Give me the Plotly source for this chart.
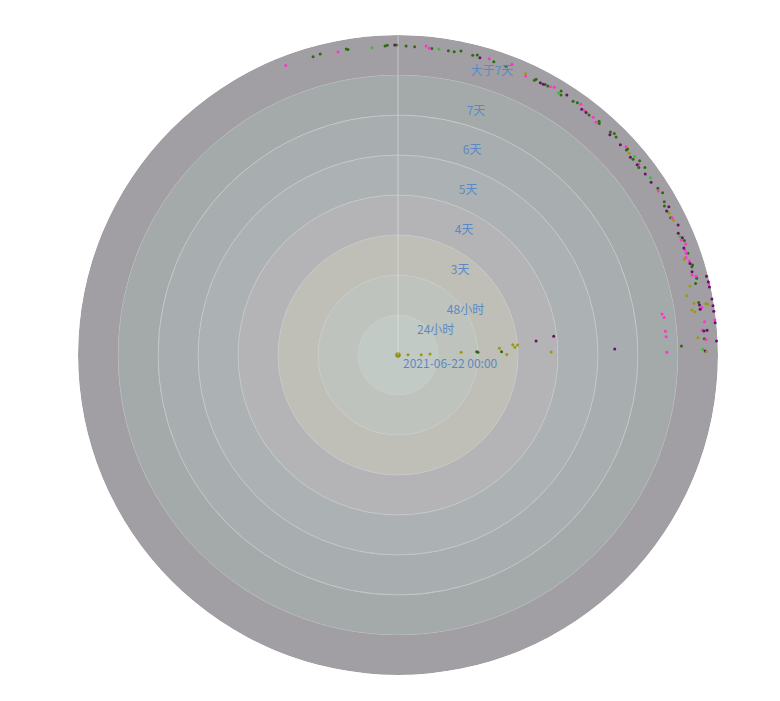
import plotly.graph_objects as go

# Radial categories (ring labels)
center_label = "2021-06-22 00:00"
first_label = "24小时"
tick_labels = ["48小时", "3天", "4天", "5天", "6天", "7天", "大于7天"]
tick_values = [1.3, 2.3, 3.3, 4.3, 5.3, 6.3, 7.3]

# Rings (one per band)
ring_names = ["24小时", "48小时", "3天", "4天", "5天", "6天", "7天", "大于7天"]
ring_size = [1, 1, 1, 1, 1, 1, 1, 1]
ring_base = [0, 1, 2, 3, 4, 5, 6, 7]

# Series: (radius, angle in degrees)
green_r = [7.75, 7.77, 7.76, 7.74, 7.73, 7.75, 7.75, 7.73, 7.72, 7.71, 7.71, 7.71, 7.76, 7.72, 7.76, 7.71, 7.71,
           7.67, 7.71, 7.70, 7.70, 7.76, 7.67, 7.71, 7.74, 7.67, 7.71, 7.67, 7.70, 7.74, 7.71, 7.71, 7.67, 7.65,
           7.75, 7.63, 7.75, 7.72, 7.76, 7.68, 7.63, 7.63, 7.71, 7.68, 7.70, 7.67, 7.71, 7.65, 7.63, 7.67, 7.09,
           1.97, 2.0, 2.59]
green_t = [105.9, 104.5, 99.6, 99.3, 92.4, 92.0, 90.2, 88.5, 86.9, 83.7, 80.6, 79.5, 78.3, 76.0, 75.2, 71.9, 69.5,
           63.6, 63.4, 61.45, 60.9, 58.3, 57.9, 55.4, 54.6, 51.5, 49.3, 49.0, 46.4, 45.7, 45.0, 41.9, 41.9, 39.8,
           38.8, 37.9, 37.2, 32.7, 31.5, 29.9, 29.2, 26.7, 21.8, 19.35, 17.0, 16.7, 14.4, 13.5, 9.9, 3.05, 1.8,
           2.4, 1.9, 1.8]

lime_r = [7.71, 7.72, 7.68, 7.72, 7.71, 7.65, 7.62]
lime_t = [94.8, 82.4, 58.5, 40.0, 35.1, 22.8, 1.1]

magenta_r = [7.76, 7.72, 7.76, 7.71, 7.75, 7.81, 7.67, 7.71, 7.75, 7.76, 7.69, 7.69, 7.64, 7.72, 7.68, 7.69, 7.64,
             7.66, 7.64, 7.71, 7.64, 7.64, 7.60, 7.65, 7.62, 7.71, 7.97, 7.69, 7.97, 6.68, 6.72, 7.71, 7.63, 6.71,
             6.72, 7.71, 6.72]
magenta_t = [111.2, 101.2, 84.8, 84.2, 72.9, 68.6, 65.4, 60.4, 59.7, 53.9, 52.6, 50.6, 49.6, 42.4, 38.4, 32.2, 27.8,
             26.6, 22.1, 21.1, 20.1, 19.45, 18.7, 17.9, 15.2, 14.8, 12.9, 8.9, 6.3, 8.8, 8.0, 6.2, 4.7, 5.1,
             3.9, 2.9, 0.6]

purple_r = [7.75, 7.71, 7.68, 7.68, 7.75, 7.67, 7.67, 7.64, 7.65, 7.63, 7.64, 7.66, 7.66, 7.72, 7.62, 7.72, 7.64,
            7.69, 7.63, 7.65, 7.64, 7.96, 7.97, 7.97, 7.97, 7.64, 7.64, 7.97, 7.97, 7.97, 7.75, 7.67, 7.97, 7.68,
            5.42, 3.47, 3.92]
purple_t = [90.6, 74.6, 62.4, 61.8, 57.0, 53.2, 52.2, 46.1, 43.4, 40.4, 38.5, 36.2, 34.3, 28.7, 28.2, 24.9, 23.5,
            22.4, 20.5, 17.4, 15.8, 14.3, 13.3, 12.3, 10.1, 9.4, 8.6, 8.9, 7.9, 5.8, 4.6, 4.5, 2.5, 0.75,
            1.6, 5.8, 6.85]

olive_r = [7.72, 7.67, 7.65, 7.67, 7.55, 7.5, 7.37, 7.51, 7.8, 7.85, 7.43, 7.50, 7.51, 7.71, 3.83, 0.25, 0.58,
           0.80, 1.58, 2.54, 2.72, 2.88, 2.93, 3.0]
olive_t = [65.6, 41.1, 27.6, 26.1, 18.5, 13.3, 11.6, 9.9, 9.5, 9.3, 8.7, 8.3, 3.3, 0.6, 1.1, 1.7, 0.7,
           1.8, 2.4, 3.8, 0.2, 5.1, 3.8, 4.8]

origin_r = [0]
origin_t = [0]

ring_colors = ["#c2cac6", "#bfc3bd", "#bfbeb7", "#b4b4b7", "#acb1b3", "#a8adaf", "#a4aaa9", "#a19fa3"]
ring_lines = ["#c8cbca"] * 7 + ["rgba(0,0,0,0)"]
label_font = dict(family="Noto Sans CJK SC, sans-serif", size=12, color="#5a8ac4")

fig = go.Figure()
fig.add_trace(go.Barpolar(
    r=ring_size, base=ring_base, theta=[0] * len(ring_names), width=[360] * len(ring_names),
    marker=dict(color=ring_colors, line=dict(color=ring_lines, width=0.6)),
    hoverinfo="skip", showlegend=False,
))

series = [
    (green_r, green_t, "#2f6a12", 3),
    (lime_r, lime_t, "#33c033", 3),
    (magenta_r, magenta_t, "#ff33cc", 3),
    (purple_r, purple_t, "#661466", 3),
    (olive_r, olive_t, "#9a9a10", 3),
    (origin_r, origin_t, "#8f8f10", 5.5),
]
for r, t, c, s in series:
    fig.add_trace(go.Scatterpolar(
        r=r, theta=t, mode="markers",
        marker=dict(color=c, size=s, line=dict(width=0)),
        hoverinfo="skip", showlegend=False,
    ))

# page body has an 8px default margin, so the figure is 8px smaller
fig.update_layout(
    width=772, height=693,
    margin=dict(l=70, r=62, t=27, b=26),
    paper_bgcolor="white",
    plot_bgcolor="white",
    showlegend=False,
    polar=dict(
        domain=dict(x=[0, 1], y=[0, 1]),
        bgcolor="rgba(0,0,0,0)",
        radialaxis=dict(
            range=[0, 8], angle=84.3, side="clockwise",
            showline=False, showgrid=False,
            ticks="outside", ticklen=35, tickcolor="rgba(0,0,0,0)",
            tickvals=tick_values, ticktext=tick_labels, tickangle=84.3,
            tickfont=label_font,
            layer="above traces",
        ),
        angularaxis=dict(
            showline=False, showgrid=False, showticklabels=False, ticks="",
        ),
    ),
    shapes=[dict(type="line", xref="paper", yref="paper", x0=0.5, x1=0.5, y0=0.5, y1=1,
                 line=dict(color="rgba(235,235,235,0.5)", width=1), layer="above")],
    annotations=[
        dict(text=center_label, xref="paper", yref="paper", x=0.5, y=0.5, xanchor="left", yanchor="middle",
             xshift=3, yshift=-7, showarrow=False, font=label_font),
        dict(text=first_label, xref="paper", yref="paper", x=0.5, y=0.5, xanchor="left", yanchor="middle",
             xshift=17, yshift=27, showarrow=False, font=label_font),
    ],
)

fig.write_html("out.html")
